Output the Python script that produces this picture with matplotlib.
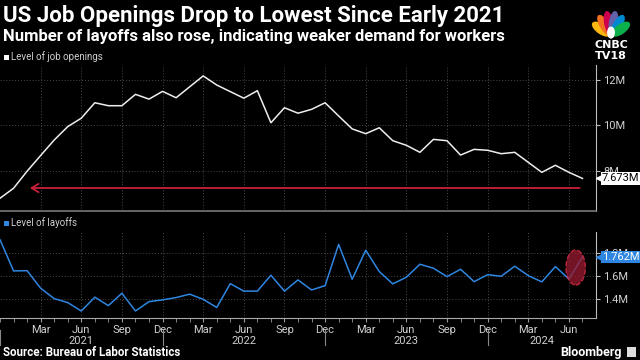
import matplotlib
matplotlib.use("Agg")
import matplotlib.pyplot as plt
import matplotlib.transforms as mtransforms
from matplotlib.patches import Ellipse, Rectangle
import numpy as np

# monthly data, Dec 2020 .. Jul 2024 (millions)
start_year, start_month = 2020, 12
openings = [6.80, 7.24, 7.99, 8.68, 9.36, 9.95, 10.32, 11.00, 10.87, 10.87, 11.37, 11.16,
            11.50, 11.22, 11.70, 12.18, 11.78, 11.49, 11.20, 11.53, 10.12, 10.78, 10.54, 10.71,
            11.00, 10.42, 9.85, 9.64, 9.90, 9.33, 9.13, 8.82, 9.39, 9.33, 8.70, 8.95,
            8.91, 8.76, 8.82, 8.38, 7.94, 8.25, 7.94, 7.673]
layoffs = [1.910, 1.643, 1.645, 1.495, 1.406, 1.372, 1.300, 1.418, 1.346, 1.452, 1.300, 1.380,
           1.395, 1.415, 1.444, 1.400, 1.330, 1.534, 1.470, 1.470, 1.606, 1.470, 1.566, 1.480,
           1.517, 1.870, 1.572, 1.820, 1.637, 1.532, 1.589, 1.700, 1.666, 1.594, 1.657, 1.551,
           1.611, 1.597, 1.683, 1.603, 1.549, 1.680, 1.574, 1.762]
month_names = ["Jan", "Feb", "Mar", "Apr", "May", "Jun", "Jul", "Aug", "Sep", "Oct", "Nov", "Dec"]
years = ["2021", "2022", "2023", "2024"]
year_label_pos = [6, 18, 30, 40]
year_breaks = [0, 12, 24, 36]
open_ticks = [8, 10, 12]
layoff_ticks = [1.4, 1.6, 1.8]
arrow_level = 7.25

BG = "black"
GRID = "#4a4a4a"
TXT = "#d0d0d0"
BLUE = "#2f86e0"
RED = "#c8203a"

plt.rcParams["font.family"] = ["Roboto", "DejaVu Sans"]

x = np.arange(len(openings))
months = [(start_month - 1 + i) % 12 + 1 for i in x]
quarter_ticks = [i for i in x if months[i] in (3, 6, 9, 12) and i > 0]

fig = plt.figure(figsize=(6.4, 3.6), dpi=100, facecolor=BG)
W, H = 640, 360
ax1 = fig.add_axes([0, 1 - 211 / H, 596 / W, 146 / H], facecolor=BG)
ax2 = fig.add_axes([0, 1 - 318 / H, 596 / W, 86 / H], facecolor=BG)

for ax in (ax1, ax2):
    ax.set_xlim(0, 44)
    for s in ("top", "left"):
        ax.spines[s].set_visible(False)
    ax.spines["right"].set_color("#bbbbbb")
    ax.spines["right"].set_linewidth(0.8)
    ax.spines["bottom"].set_color("#777777")
    ax.yaxis.tick_right()
    ax.tick_params(axis="y", colors="#bbbbbb", labelcolor=TXT, labelsize=8, length=3, width=0.8, pad=2)
    ax.set_xticks(quarter_ticks)
    ax.grid(True, color=GRID, linestyle=(0, (1, 2)), linewidth=0.7)
    ax.set_axisbelow(True)

# top panel: job openings
ax1.set_ylim(6.24, 12.66)
ax1.set_yticks(open_ticks)
ax1.set_yticklabels([f"{t}M" for t in open_ticks])
ax1.tick_params(axis="x", length=0, labelbottom=False)
ax1.spines["bottom"].set_linewidth(1.2)
ax1.plot(x, openings, color="#eeeeee", lw=1.1)
ax1.annotate("", xy=(2, arrow_level), xytext=(x[-1], arrow_level),
             arrowprops=dict(arrowstyle="->,head_length=0.5,head_width=0.3", color=RED, lw=1.3))

# bottom panel: layoffs
ax2.set_ylim(1.24, 1.976)
ax2.set_yticks(layoff_ticks)
ax2.set_yticklabels([f"{t}M" for t in layoff_ticks])
ax2.spines["bottom"].set_color("#aaaaaa")
ax2.set_xticklabels([month_names[months[i] - 1] for i in quarter_ticks])
ax2.set_xticks(x, minor=True)
ax2.tick_params(axis="x", which="both", colors="#999999", labelcolor=TXT, labelsize=8, length=3, pad=2)
ax2.plot(x, layoffs, color=BLUE, lw=1.1)
ax2.add_patch(Ellipse((42.5, 1.672), 1.43, 0.30, facecolor="#9a1a30", alpha=0.75,
                      edgecolor="#e0304a", linestyle="--", lw=1.0, zorder=5))

# year labels and separators
tr = mtransforms.blended_transform_factory(ax2.transData, ax2.transAxes)
for pos, yr in zip(year_label_pos, years):
    ax2.text(pos, -0.27, yr, transform=tr, ha="center", va="center", color=TXT, fontsize=8)
for b in year_breaks:
    ax2.plot([b, b], [-0.14, -0.31], transform=tr, color="#888888", lw=0.8, clip_on=False)

# last-value tags
def tag(ax, val, text, fc, tc):
    t = mtransforms.blended_transform_factory(ax.transAxes, ax.transData)
    ax.plot([1 + 4 / 596], [val], marker="<", ms=6, color=fc, transform=t, clip_on=False, zorder=6)
    ax.text(1 + 6 / 596, val, text, transform=t, ha="left", va="center", fontsize=8,
            color=tc, zorder=7, bbox=dict(boxstyle="square,pad=0.12", fc=fc, ec="none"))

tag(ax1, openings[-1], f"{openings[-1]:.3f}M", "white", "black")
tag(ax2, layoffs[-1], f"{layoffs[-1]:.3f}M", BLUE, "white")

# titles and legends
fig.text(0.004, 1 - 22 / H, "US Job Openings Drop to Lowest Since Early 2021", color="white",
         fontsize=16, fontweight="bold", va="baseline")
fig.text(0.004, 1 - 41 / H, "Number of layoffs also rose, indicating weaker demand for workers",
         color="white", fontsize=12, fontweight="bold", va="baseline")
fig.patches.append(Rectangle((4 / W, 1 - 60 / H), 5 / W, 5 / H, transform=fig.transFigure,
                             facecolor="white", figure=fig))
fig.text(11 / W, 1 - 60 / H, "Level of job openings", color=TXT, fontsize=7, va="baseline")
fig.patches.append(Rectangle((4 / W, 1 - 226 / H), 5 / W, 5 / H, transform=fig.transFigure,
                             facecolor=BLUE, figure=fig))
fig.text(11 / W, 1 - 226 / H, "Level of layoffs", color=TXT, fontsize=7, va="baseline")
fig.text(0.004, 1 - 356 / H, "Source: Bureau of Labor Statistics", color="white",
         fontsize=8.3, fontweight="bold", va="baseline")
fig.text(622 / W, 1 - 356 / H, "Bloomberg", color="white", fontsize=9, fontweight="bold",
         va="baseline", ha="right")
fig.patches.append(Rectangle((627 / W, 1 - 357 / H), 9 / W, 10 / H, transform=fig.transFigure,
                             facecolor="#dddddd", figure=fig))

# CNBC TV18 logo
lg = fig.add_axes([589 / W, 1 - 39 / H, 44 / W, 30 / H])
lg.set_xlim(-1.2, 1.2)
lg.set_ylim(-0.1, 1.3)
lg.axis("off")
feathers = ["#fcb711", "#f37021", "#cc004c", "#6460aa", "#0089d0", "#0db14b"]
for k, c in enumerate(feathers):
    ang = np.deg2rad(150 - k * 24)
    cx, cy = 0.62 * np.cos(ang), 0.62 * np.sin(ang) + 0.05
    lg.add_patch(Ellipse((cx, cy), 1.05, 0.42, angle=np.rad2deg(ang), color=c))
lg.add_patch(Ellipse((0, 0.2), 0.35, 0.5, color="white"))
fig.text(611 / W, 1 - 48.5 / H, "CNBC", color="white", fontsize=8, fontweight="heavy",
         ha="center", va="baseline", family="DejaVu Sans")
fig.text(611 / W, 1 - 59 / H, "TV18", color="white", fontsize=8, fontweight="heavy",
         ha="center", va="baseline", family="DejaVu Sans")

fig.savefig("out.png", dpi=100, facecolor=BG)
